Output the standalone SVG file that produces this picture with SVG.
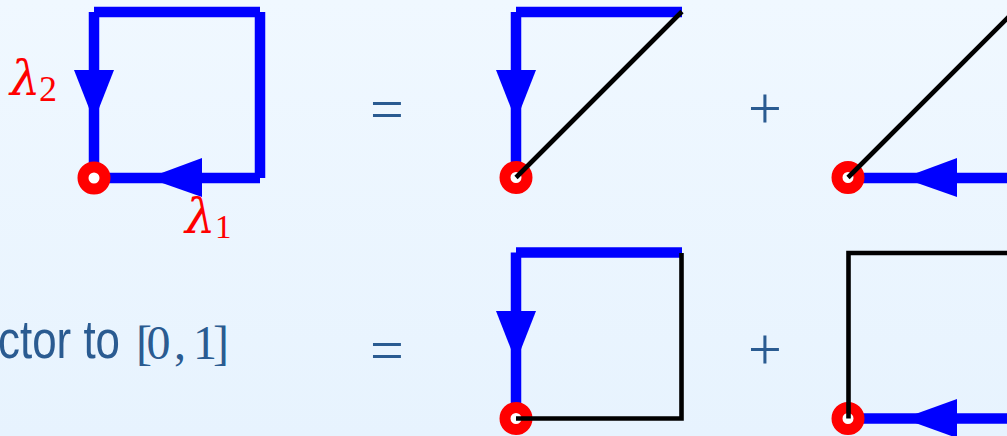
<svg xmlns="http://www.w3.org/2000/svg" width="1007" height="436" viewBox="0 0 1007 436">
<defs>
<linearGradient id="bg" x1="0" y1="0" x2="0" y2="1">
<stop offset="0" stop-color="#f0f8ff"/>
<stop offset="1" stop-color="#e7f3fe"/>
</linearGradient>
<style>
.b{stroke:#0000ff;stroke-width:10.5;fill:none;stroke-linecap:butt}
.k{stroke:#000;stroke-width:4.6;fill:none;stroke-linecap:butt}
.ah{fill:#0000ff}
.dot{fill:#fff;stroke:#ff0000;stroke-width:11}
.lab{fill:#ff0000;font-family:"DejaVu Serif",serif}
.sub{fill:#ff0000;font-family:"Liberation Serif",serif}
.op{fill:#2a5b91;font-family:"Liberation Serif",serif;font-size:60px;text-anchor:middle}
.txt{fill:#2a5b91;font-family:"Liberation Sans",Arial,sans-serif;font-size:53px}
.math{fill:#2a5b91;font-family:"Liberation Serif",serif;font-size:48px;text-anchor:middle}
</style>
</defs>
<rect width="1007" height="436" fill="url(#bg)"/>

<g id="connectors">
<line class="b" x1="94" y1="12" x2="260" y2="12"/>
<line class="b" x1="94" y1="12" x2="94" y2="178"/>
<line class="b" x1="260" y1="12" x2="260" y2="178"/>
<line class="b" x1="94" y1="178" x2="260" y2="178"/>
<polygon class="ah" points="74,70 114,70 94,121"/>
<polygon class="ah" points="202,158 202,197 148,178"/>
<line class="b" x1="516" y1="12" x2="682" y2="12"/>
<line class="b" x1="516" y1="12" x2="516" y2="178"/>
<polygon class="ah" points="496,70 536,70 516,121"/>
<line class="b" x1="848" y1="178" x2="1014" y2="178"/>
<polygon class="ah" points="957,158 957,197 903,178"/>
<line class="b" x1="516" y1="252.5" x2="682" y2="252.5"/>
<line class="b" x1="516" y1="252.5" x2="516" y2="418.5"/>
<polygon class="ah" points="496,311 536,311 516,362"/>
<line class="b" x1="848" y1="418.5" x2="1014" y2="418.5"/>
<polygon class="ah" points="957,399 957,438 903,418.5"/>
</g>

<g id="base-points">
<circle class="dot" cx="94" cy="178" r="11"/>
<circle class="dot" cx="516" cy="177.5" r="11"/>
<circle class="dot" cx="848" cy="177.5" r="11"/>
<circle class="dot" cx="516" cy="418.5" r="11"/>
<circle class="dot" cx="848" cy="418.5" r="11"/>
</g>

<g id="black-paths">
<line class="k" x1="516" y1="177.5" x2="682" y2="11.5"/>
<line class="k" x1="848" y1="177.5" x2="1014" y2="11.5"/>
<polyline class="k" points="516,418.5 681.5,418.5 681.5,253"/>
<polyline class="k" points="848.5,418.5 848.5,253 1014,253"/>
</g>

<g id="labels">
<text class="lab" x="10" y="95" font-size="48" font-style="italic">λ</text>
<text class="sub" x="39" y="101" font-size="36">2</text>
<text class="lab" x="185" y="233" font-size="48" font-style="italic">λ</text>
<text class="sub" x="215" y="238" font-size="33">1</text>
</g>

<g id="operators">
<text class="op" x="387" y="129">=</text>
<text class="op" x="387" y="370">=</text>
<text class="op" x="765" y="128">+</text>
<text class="op" x="765" y="369">+</text>
</g>

<g id="caption">
<text class="txt" x="-2" y="357.5" textLength="122" lengthAdjust="spacingAndGlyphs">ctor to</text>
<text class="math" y="359" x="144 158.5 180 205 221">[0,1]</text>
</g>
</svg>
